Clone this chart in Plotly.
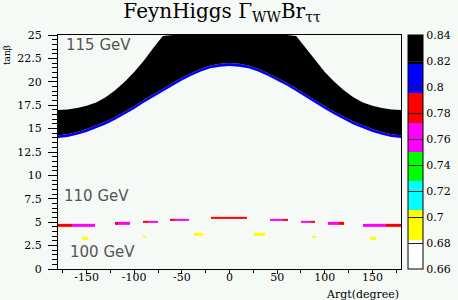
import numpy as np
import plotly.graph_objects as go

# ---------------- data ----------------
# Black/blue band (tan(beta) edges as a function of Argt)
band_argt = [-180, -170, -160, -150, -140, -130, -120, -110, -100, -90, -80, -70, -60,
             -50, -40, -30, -20, -10, 0, 10, 20, 30, 40, 50, 60, 70, 80, 90, 100,
             110, 120, 130, 140, 150, 160, 170, 180]
# lower edge of the 0.80-0.82 (blue) level
band_lower = [14.0, 14.1, 14.35, 14.65, 15.05, 15.45, 15.95, 16.5, 17.1, 17.75, 18.35, 19.0, 19.6,
              20.15, 20.65, 21.1, 21.45, 21.62, 21.7, 21.62, 21.45, 21.1, 20.65, 20.15, 19.6,
              19.0, 18.35, 17.75, 17.1, 16.5, 15.95, 15.45, 15.05, 14.65, 14.35, 14.1, 14.0]
# boundary between blue (0.80-0.82) and black (0.82-0.84)
band_mid = [14.3, 14.4, 14.65, 14.95, 15.35, 15.75, 16.25, 16.8, 17.4, 18.05, 18.65, 19.3, 19.9,
            20.45, 20.95, 21.4, 21.75, 21.92, 22.0, 21.92, 21.75, 21.4, 20.95, 20.45, 19.9,
            19.3, 18.65, 18.05, 17.4, 16.8, 16.25, 15.75, 15.35, 14.95, 14.65, 14.4, 14.3]
# upper edge of the black level (top of frame = 25)
band_upper = [17.0, 17.05, 17.2, 17.45, 17.8, 18.35, 19.1, 20.0, 21.05, 22.25, 23.6, 24.9, 25.0,
              25.0, 25.0, 25.0, 25.0, 25.0, 25.0, 25.0, 25.0, 25.0, 25.0, 25.0, 25.0,
              24.9, 23.6, 22.25, 21.05, 20.0, 19.1, 18.35, 17.8, 17.45, 17.2, 17.05, 17.0]
band_value_blue = 0.81
band_value_black = 0.83

# Short stripes at low tan(beta): Argt range, tan(beta), value
stripe_argt_lo = [-180, -165, -155, -120, -117, -91, -91, -86, -62, -57, -37, -19, 26, 42, 56,
                  75, 86, 87, 103, 115, 140, 164, 147]
stripe_argt_hi = [-165, -141, -148, -117, -104, -88, -86, -75, -57, -42, -28, 18, 37, 56, 61,
                  86, 90, 91, 115, 120, 164, 180, 154]
stripe_tanb = [4.65, 4.65, 3.28, 4.88, 4.88, 3.47, 5.03, 5.03, 5.27, 5.27, 3.7, 5.45, 3.7, 5.27, 5.27,
               5.03, 5.03, 3.47, 4.88, 4.88, 4.65, 4.65, 3.28]
stripe_value = [0.78, 0.76, 0.69, 0.78, 0.76, 0.69, 0.78, 0.76, 0.78, 0.76, 0.69, 0.78, 0.69, 0.76, 0.78,
                0.76, 0.78, 0.69, 0.76, 0.78, 0.76, 0.78, 0.69]
stripe_halfwidth = 0.12

x_tick_vals = [-150, -100, -50, 0, 50, 100, 150]
x_tick_text = ["-150", "-100", "-50", "0", "50", "100", "150"]
y_tick_vals = [0, 2.5, 5, 7.5, 10, 12.5, 15, 17.5, 20, 22.5, 25]
y_tick_text = ["0", "2.5", "5", "7.5", "10", "12.5", "15", "17.5", "20", "22.5", "25"]
z_tick_vals = [0.66, 0.68, 0.70, 0.72, 0.74, 0.76, 0.78, 0.80, 0.82, 0.84]
z_tick_text = ["0.66", "0.68", "0.7", "0.72", "0.74", "0.76", "0.78", "0.8", "0.82", "0.84"]

ZMIN, ZMAX = 0.66, 0.84
palette = ["#ffffff", "#ffff00", "#00ffff", "#00ff00", "#ff00ff", "#ff0000", "#0000ff", "#000000"]

# ---------------- build the stripe cell grid (non-uniform bricks) ----------------
x_edges = sorted(set(stripe_argt_lo) | set(stripe_argt_hi))
y_edges = sorted(set(round(t - stripe_halfwidth, 4) for t in stripe_tanb) |
                 set(round(t + stripe_halfwidth, 4) for t in stripe_tanb))
xc = [(a + b) / 2 for a, b in zip(x_edges[:-1], x_edges[1:])]
yc = [(a + b) / 2 for a, b in zip(y_edges[:-1], y_edges[1:])]
zlist = [[None] * len(xc) for _ in yc]
for lo, hi, t, v in zip(stripe_argt_lo, stripe_argt_hi, stripe_tanb, stripe_value):
    for i, yy in enumerate(yc):
        if abs(yy - t) < stripe_halfwidth:
            for j, xx in enumerate(xc):
                if lo <= xx <= hi:
                    zlist[i][j] = v

n = len(palette)
cscale = []
for i, c in enumerate(palette):
    cscale.append([i / n, c])
    cscale.append([(i + 1) / n, c])


def zcolor(v):
    idx = int((v - ZMIN) / (ZMAX - ZMIN) * n)
    return palette[min(max(idx, 0), n - 1)]


fig = go.Figure()
fig.add_trace(go.Heatmap(
    x=x_edges, y=y_edges, z=zlist, zmin=ZMIN, zmax=ZMAX, colorscale=cscale,
    zsmooth=False, hoverinfo="skip", xgap=0, ygap=0,
    colorbar=dict(
        xref="container", x=408 / 458, xanchor="left", xpad=0, ypad=0,
        yref="paper", y=0.5, yanchor="middle", len=1, lenmode="fraction",
        thickness=15, thicknessmode="pixels",
        outlinewidth=1, outlinecolor="black",
        ticks="inside", ticklen=15, tickwidth=1, tickcolor="#222222",
        tickvals=z_tick_vals, ticktext=z_tick_text,
        tickfont=dict(family="DejaVu Serif", size=11, color="black"),
    ),
))

# band as filled regions between edges
fig.add_trace(go.Scatter(x=band_argt, y=band_lower, mode="lines", line=dict(width=0),
                         showlegend=False, hoverinfo="skip"))
fig.add_trace(go.Scatter(x=band_argt, y=band_mid, mode="lines", line=dict(width=0),
                         fill="tonexty", fillcolor=zcolor(band_value_blue),
                         showlegend=False, hoverinfo="skip"))
fig.add_trace(go.Scatter(x=band_argt, y=band_upper, mode="lines", line=dict(width=0),
                         fill="tonexty", fillcolor=zcolor(band_value_black),
                         showlegend=False, hoverinfo="skip"))

bg = "#f5faf6"
tickfont = dict(family="DejaVu Serif", size=11, color="black")
fig.update_layout(
    width=458, height=300,
    margin=dict(l=58, r=57, t=35, b=31, autoexpand=False),
    paper_bgcolor=bg, plot_bgcolor=bg,
    showlegend=False,
    title=dict(text="FeynHiggs Γ<sub>WW</sub>Br<sub>ττ</sub>",
               x=222 / 458, xanchor="center", xref="container",
               y=1 - 11 / 300, yanchor="middle", yref="container",
               font=dict(family="DejaVu Serif", size=20, color="black")),
    xaxis=dict(range=[-180, 180], tickvals=x_tick_vals, ticktext=x_tick_text,
               ticks="outside", ticklen=4, tickwidth=1, tickcolor="black",
               ticklabelstandoff=-6,
               minor=dict(dtick=25, tick0=0, ticks="outside", ticklen=3, tickcolor="black"),
               showline=True, linecolor="black", linewidth=1, mirror=True,
               showgrid=False, zeroline=False, tickfont=tickfont),
    yaxis=dict(range=[0, 25], tickvals=y_tick_vals, ticktext=y_tick_text,
               ticks="outside", ticklen=9, tickwidth=1, tickcolor="black",
               ticklabelstandoff=4,
               minor=dict(dtick=0.5, tick0=0, ticks="outside", ticklen=5, tickcolor="black"),
               showline=True, linecolor="black", linewidth=1, mirror=True,
               showgrid=False, zeroline=False, tickfont=tickfont),
    annotations=[
        dict(text="Argt(degree)", xref="paper", yref="paper", x=1, y=-25 / 234,
             xanchor="right", yanchor="middle", showarrow=False,
             font=dict(family="DejaVu Serif", size=11, color="black")),
        dict(text="tanβ", xref="paper", yref="paper", x=-51 / 343, y=226 / 234,
             xanchor="center", yanchor="top", textangle=-90, showarrow=False,
             font=dict(family="DejaVu Serif", size=9, color="black")),
        dict(text="115 GeV", xref="x", yref="y", x=-174, y=23.9, xanchor="left", yanchor="middle",
             showarrow=False, font=dict(family="DejaVu Sans", size=15, color="#555555")),
        dict(text="110 GeV", xref="x", yref="y", x=-176, y=7.8, xanchor="left", yanchor="middle",
             showarrow=False, font=dict(family="DejaVu Sans", size=15, color="#555555")),
        dict(text="100 GeV", xref="x", yref="y", x=-170, y=1.8, xanchor="left", yanchor="middle",
             showarrow=False, font=dict(family="DejaVu Sans", size=15, color="#555555")),
    ],
)

fig.write_html("out.html",
               config={"displayModeBar": False},
               post_script="document.body.style.margin='0';document.body.style.background='" + bg + "';")
